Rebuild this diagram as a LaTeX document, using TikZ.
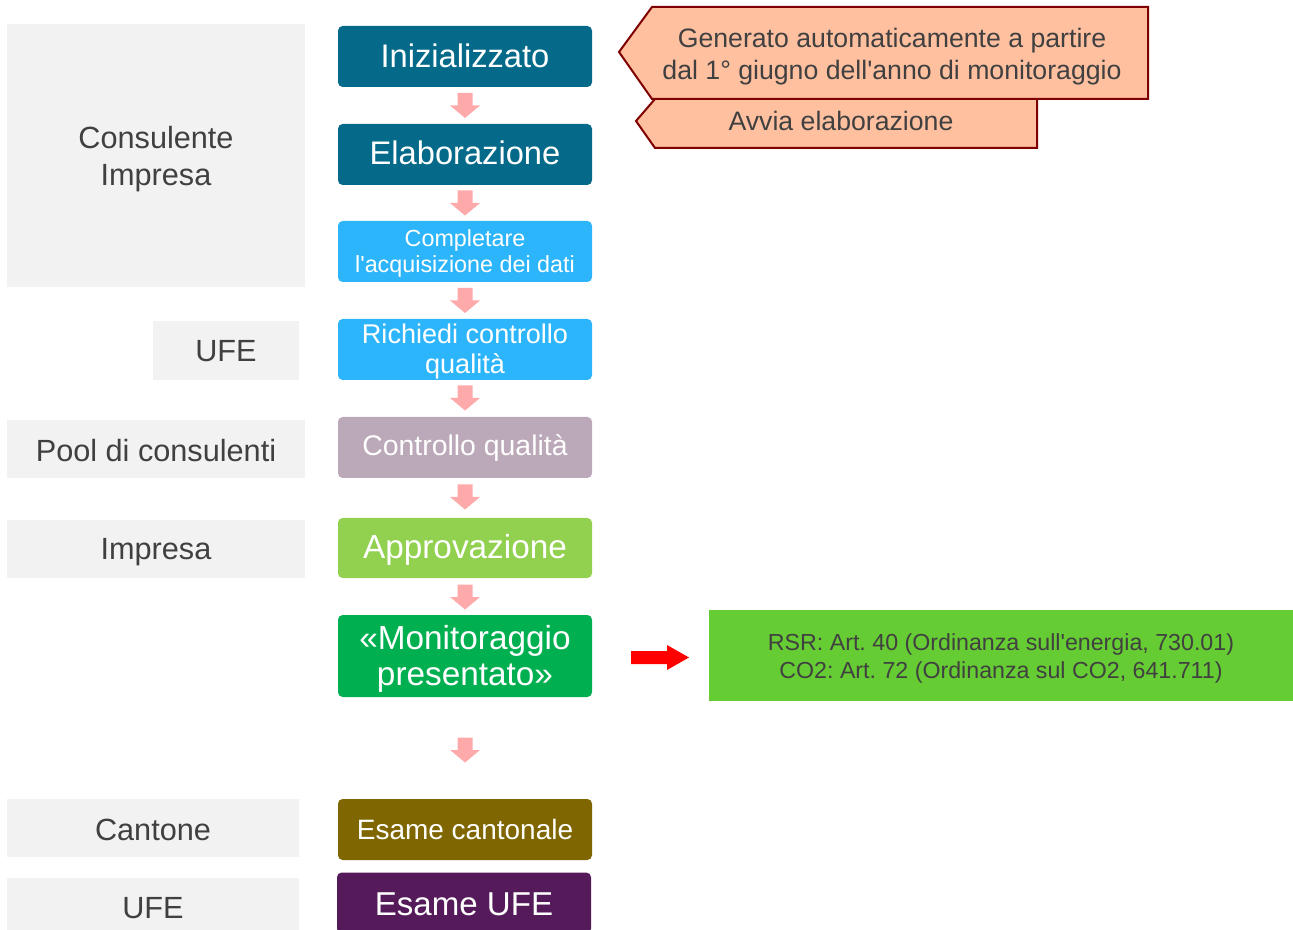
\documentclass[tikz,border=0pt]{standalone}
\usepackage{fontspec}
\setmainfont{Liberation Sans}[Ligatures=TeXOff]
\frenchspacing
\definecolor{teal1}{HTML}{056A89}
\definecolor{lblue}{HTML}{2DB5FB}
\definecolor{mauve}{HTML}{BBA8B8}
\definecolor{lgreen}{HTML}{92D050}
\definecolor{dgreen}{HTML}{00B050}
\definecolor{olive}{HTML}{7F6600}
\definecolor{purp}{HTML}{541A5A}
\definecolor{pinkc}{HTML}{FFAAAA}
\definecolor{peach}{HTML}{FFC0A0}
\definecolor{dred}{HTML}{7F0000}
\definecolor{gbox}{HTML}{66CC33}
\definecolor{grayb}{HTML}{F2F2F2}
\definecolor{txtg}{HTML}{404040}
\tikzset{
  stage/.style={rounded corners=3.5pt, minimum width=190.5pt, minimum height=45.75pt, inner sep=0pt},
  stext/.style={text=white, align=center, inner sep=0pt},
  role/.style={fill=grayb, inner sep=0pt},
  rtext/.style={text=txtg, align=center, inner sep=0pt, font=\fontsize{23}{27.6}\selectfont},
  pdown/.pic={\fill[pinkc] (-7.5,-12.5) -- (7.5,-12.5) -- (7.5,0) -- (15,0) -- (0,12.5) -- (-15,0) -- (-7.5,0) -- cycle;},
  callout/.style={fill=peach, draw=dred, line width=1.5pt},
  ctext/.style={text=txtg, align=center, inner sep=0pt, font=\fontsize{20}{24}\selectfont}
}
\begin{document}
\begin{tikzpicture}[x=0.75pt,y=-0.75pt]
\useasboundingbox (0,0) rectangle (1293,930);
\clip (0,0) rectangle (1293,930);
% role boxes
\node[role, minimum width=223.5pt, minimum height=197.25pt] (ci) at (156,155.5) {};
\node[rtext] (ci-t) at (156,159) {Consulente\\Impresa};
\node[role, minimum width=109.5pt, minimum height=44.25pt] (ufe1) at (226,350.5) {};
\node[rtext] (ufe1-t) at (226,351.5) {UFE};
\node[role, minimum width=223.5pt, minimum height=43.5pt] (pool) at (156,449) {};
\node[rtext] (pool-t) at (156,450.5) {Pool di consulenti};
\node[role, minimum width=223.5pt, minimum height=43.5pt] (imp) at (156,549) {};
\node[rtext] (imp-t) at (156,552.5) {Impresa};
\node[role, minimum width=219pt, minimum height=43.5pt] (cant) at (153,828) {};
\node[rtext] (cant-t) at (153,829.5) {Cantone};
\node[role, minimum width=219pt, minimum height=43.5pt] (ufe2) at (153,907) {};
\node[rtext] (ufe2-t) at (153,908) {UFE};
% stages
\node[stage, fill=teal1] (s1) at (465,56.5) {};
\node[stext, font=\fontsize{24.5}{29}\selectfont] (s1-t) at (465,55.5) {Inizializzato};
\node[stage, fill=teal1] (s2) at (465,154.5) {};
\node[stext, font=\fontsize{24.5}{29}\selectfont] (s2-t) at (465,153) {Elaborazione};
\node[stage, fill=lblue] (s3) at (465,251.5) {};
\node[stext, font=\fontsize{17.5}{19}\selectfont] (s3-t) at (465,253.5) {Completare\\l'acquisizione dei dati};
\node[stage, fill=lblue] (s4) at (465,349.5) {};
\node[stext, font=\fontsize{20.3}{21.8}\selectfont] (s4-t) at (465,351.5) {Richiedi controllo\\qualità};
\node[stage, fill=mauve] (s5) at (465,447.5) {};
\node[stext, font=\fontsize{21.3}{25}\selectfont] (s5-t) at (465,448) {Controllo qualità};
\node[stage, fill=lgreen, minimum height=45pt] (s6) at (465,548) {};
\node[stext, font=\fontsize{25}{29}\selectfont] (s6-t) at (465,550) {Approvazione};
\node[stage, fill=dgreen, minimum height=61.5pt] (s7) at (465,656) {};
\node[stext, font=\fontsize{25}{27.4}\selectfont] (s7-t) at (465,659) {«Monitoraggio\\presentato»};
\node[stage, fill=olive] (s8) at (465,829.5) {};
\node[stext, font=\fontsize{21}{25}\selectfont] (s8-t) at (465,829) {Esame cantonale};
\node[stage, fill=purp] (s9) at (464,903) {};
\node[stext, font=\fontsize{24.8}{29}\selectfont] (s9-t) at (464,904) {Esame UFE};
% pink arrows
\foreach \a/\b/\y in {s1/s2/105.5, s2/s3/203, s3/s4/300.5, s4/s5/398, s5/s6/497, s6/s7/597, s7/s8/750}{
  \path (\a.south) -- (\b.north) coordinate[pos=0.5] (m-\a);
  \pic at (465,\y) {pdown};
}
% green legal box
\node[fill=gbox, inner sep=0pt, minimum width=438pt, minimum height=68.25pt] (law) at (1001,655.5) {};
\node[text=txtg, align=center, inner sep=0pt, font=\fontsize{17.4}{21}\selectfont] (law-t) at (1001,658.5) {RSR: Art. 40 (Ordinanza sull'energia, 730.01)\\CO2: Art. 72 (Ordinanza sul CO2, 641.711)};
% red arrow
\fill[red] (631,651) -- (667,651) -- (667,645) -- (689,657.5) -- (667,670) -- (667,664) -- (631,664) -- cycle;
% callouts
\draw[callout] (636,121) -- (655,99) -- (1037,99) -- (1037,148) -- (655,148) -- cycle;
\node[ctext] (c2) at (841,121) {Avvia elaborazione};
\draw[callout] (619,52) -- (652,7) -- (1148,7) -- (1148,99) -- (652,99) -- cycle;
\node[ctext] (c1) at (892,57) {Generato automaticamente a partire\\dal 1° giugno dell'anno di monitoraggio};
\end{tikzpicture}
\end{document}
